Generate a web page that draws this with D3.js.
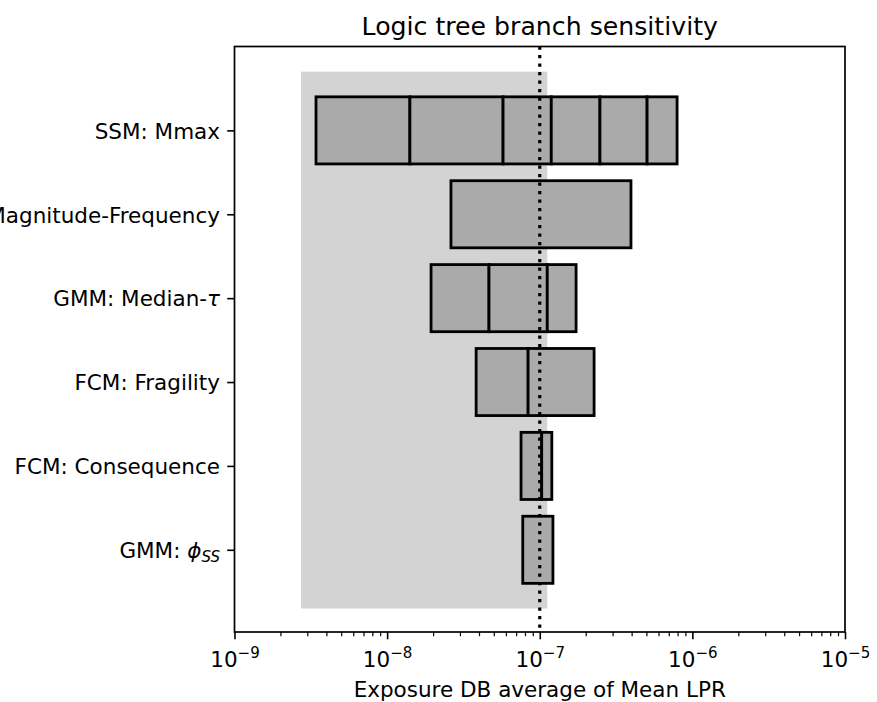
<!DOCTYPE html>
<html lang="en">
<head>
<meta charset="utf-8">
<style>
  body { margin: 0; background: #fff; }
  svg, .axis { font-family: "DejaVu Sans", sans-serif; }
  .axis .domain { display: none; }
</style>
</head>
<body>
<svg width="877" height="702"></svg>
<script src="https://cdn.jsdelivr.net/npm/d3@7"></script>
<script>
// branches, top to bottom
var branches = ["SSM: Mmax", "Magnitude-Frequency", "GMM: Median-τ", "FCM: Fragility", "FCM: Consequence", "GMM: ϕSS"];
// segment boundaries of each branch bar (LPR values)
var ssmEdges  = [3.42e-9, 1.41e-8, 5.75e-8, 1.19e-7, 2.48e-7, 5.05e-7, 7.94e-7];
var mfdEdges  = [2.62e-8, 3.96e-7];
var tauEdges  = [1.94e-8, 4.65e-8, 1.12e-7, 1.73e-7];
var fragEdges = [3.83e-8, 8.39e-8, 2.27e-7];
var consEdges = [7.54e-8, 1.03e-7, 1.20e-7];
var phiEdges  = [7.74e-8, 1.22e-7];
var branchEdges = [ssmEdges, mfdEdges, tauEdges, fragEdges, consEdges, phiEdges];

var shadeRange = [2.73e-9, 1.12e-7];   // shaded band
var meanLPR = 1e-7;                     // dotted reference
var xTicks = [1e-9, 1e-8, 1e-7, 1e-6, 1e-5];
var xTickExp = ["−9", "−8", "−7", "−6", "−5"];

var svg = d3.select("svg"),
    pL = 234.5, pR = 845, pT = 46.5, pB = 632,
    fs = 21.5;

var x = d3.scaleLog().domain([1e-9, 1e-5]).range([pL, pR]);
var y = d3.scaleLinear().domain([-0.98, 6.0]).range([pB, pT]);
var pos = function(i) { return branches.length - 1 - i; };
var barH = 0.8;

// shaded band
svg.append("rect")
    .attr("x", x(shadeRange[0]))
    .attr("width", x(shadeRange[1]) - x(shadeRange[0]))
    .attr("y", y(5.7))
    .attr("height", y(-0.7) - y(5.7))
    .attr("fill", "#d3d3d3");

// bars
var segs = [];
branchEdges.forEach(function(e, i) {
  for (var k = 0; k < e.length - 1; k++) segs.push({b: i, x0: e[k], x1: e[k + 1]});
});
svg.append("g").selectAll("rect")
  .data(segs)
  .enter().append("rect")
    .attr("x", function(d) { return x(d.x0); })
    .attr("width", function(d) { return x(d.x1) - x(d.x0); })
    .attr("y", function(d) { return y(pos(d.b) + barH / 2); })
    .attr("height", function(d) { return y(pos(d.b) - barH / 2) - y(pos(d.b) + barH / 2); })
    .attr("fill", "#aaaaaa")
    .attr("stroke", "#000")
    .attr("stroke-width", 2.8);

// dotted mean line
svg.append("line")
    .attr("x1", x(meanLPR)).attr("x2", x(meanLPR))
    .attr("y1", pT).attr("y2", pB)
    .attr("stroke", "#000")
    .attr("stroke-width", 3.2)
    .attr("stroke-dasharray", "3.2,5.3");

// x axis: minor ticks
var minor = [];
for (var p = -9; p < -5; p++) for (var m = 2; m < 10; m++) minor.push(m * Math.pow(10, p));
svg.append("g")
    .attr("class", "axis")
    .attr("transform", "translate(0," + pB + ")")
    .call(d3.axisBottom(x).tickValues(minor).tickSize(4.2).tickFormat(""))
    .selectAll("line").attr("stroke-width", 1.2);

// x axis: major ticks
var xAxis = svg.append("g")
    .attr("class", "axis")
    .attr("transform", "translate(0," + pB + ")")
    .call(d3.axisBottom(x).tickValues(xTicks).tickSize(7.3).tickFormat(""));
xAxis.attr("font-family", null);
xAxis.selectAll("line").attr("stroke-width", 1.6);
xAxis.selectAll(".tick text").remove();
xAxis.selectAll(".tick").append("text")
    .attr("y", 35)
    .attr("fill", "#000")
    .attr("font-size", fs)
    .attr("text-anchor", "middle")
    .each(function(d, i) {
      var t = d3.select(this);
      t.append("tspan").text("10");
      t.append("tspan").attr("dy", -9.5).attr("font-size", fs * 0.7).text(xTickExp[i]);
    });

// y axis
var yAxis = svg.append("g")
    .attr("class", "axis")
    .attr("transform", "translate(" + pL + ",0)")
    .call(d3.axisLeft(y).tickValues(d3.range(branches.length)).tickSize(7.3).tickFormat(""));
yAxis.attr("font-family", null);
yAxis.selectAll("line").attr("stroke-width", 1.6);
yAxis.selectAll(".tick text").remove();
yAxis.selectAll(".tick").append("text")
    .attr("x", -14.5)
    .attr("dy", "0.36em")
    .attr("fill", "#000")
    .attr("font-size", fs)
    .attr("text-anchor", "end")
    .each(function(v) {
      var t = d3.select(this), label = branches[pos(v)];
      if (label.indexOf("τ") >= 0) {
        t.append("tspan").text(label.replace("τ", ""));
        t.append("tspan").attr("font-style", "italic").text("τ");
      } else if (label.indexOf("ϕ") >= 0) {
        t.append("tspan").text("GMM: ");
        t.append("tspan").attr("font-style", "italic").text("ϕ");
        t.append("tspan").attr("font-style", "italic").attr("font-size", fs * 0.7).attr("dy", 4).text("SS");
      } else {
        t.text(label);
      }
    });

// frame
svg.append("rect")
    .attr("x", pL).attr("y", pT)
    .attr("width", pR - pL).attr("height", pB - pT)
    .attr("fill", "none")
    .attr("stroke", "#000")
    .attr("stroke-width", 1.7);

// title and label
svg.append("text")
    .attr("x", (pL + pR) / 2).attr("y", 35)
    .attr("text-anchor", "middle")
    .attr("font-size", 25.2)
    .text("Logic tree branch sensitivity");

svg.append("text")
    .attr("x", (pL + pR) / 2).attr("y", 697)
    .attr("text-anchor", "middle")
    .attr("font-size", fs)
    .text("Exposure DB average of Mean LPR");
</script>
</body>
</html>
